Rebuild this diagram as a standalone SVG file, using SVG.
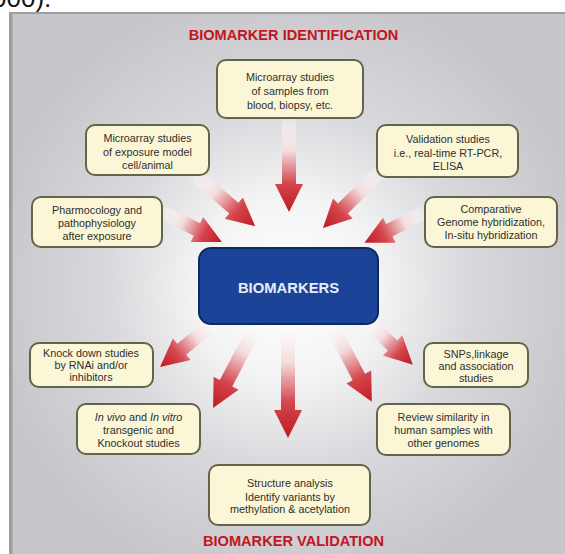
<svg xmlns="http://www.w3.org/2000/svg" width="565" height="554" viewBox="0 0 565 554">
<defs>
<radialGradient id="glow" cx="288" cy="288" r="300" gradientUnits="userSpaceOnUse">
<stop offset="0" stop-color="#ffffff"/>
<stop offset="0.3" stop-color="#f4f4f5"/>
<stop offset="0.6" stop-color="#d9d8dc"/>
<stop offset="1" stop-color="#c7c6cb"/>
</radialGradient>
<linearGradient id="arr" x1="0" y1="0" x2="1" y2="0">
<stop offset="0" stop-color="#ffffff" stop-opacity="0.2"/>
<stop offset="0.35" stop-color="#f3dcdd"/>
<stop offset="0.7" stop-color="#d4454c"/>
<stop offset="1" stop-color="#bf1a22"/>
</linearGradient>
<path id="a" d="M0,-7 L-28,-7 L-28,-14 L0,0 L-28,14 L-28,7 Z"/>
</defs>
<style>
.box{fill:#fbf7d6;stroke:#64644a;stroke-width:2}
.t{font-family:"Liberation Sans",Arial,sans-serif;font-size:10.8px;fill:#2e2e2e;text-anchor:middle}
.h{font-family:"Liberation Sans",Arial,sans-serif;font-size:14.6px;font-weight:bold;fill:#c3161c;text-anchor:middle}
.arrow{fill:url(#arr)}
</style>
<rect width="565" height="554" fill="#ffffff"/>
<text x="-8" y="7" style="font-family:'Liberation Sans',Arial,sans-serif;font-size:26px;fill:#111">000).</text>
<rect x="10" y="13" width="560" height="545" fill="url(#glow)"/>
<rect x="9" y="12" width="560" height="2" fill="#9f9ea3"/>
<rect x="9" y="12" width="3.5" height="545" fill="#9d9ca1"/>
<text class="h" x="293.5" y="40">BIOMARKER IDENTIFICATION</text>
<text class="h" x="293.5" y="546">BIOMARKER VALIDATION</text>
<g id="connectors">
<path class="arrow" d="M0,-7 L66,-7 L66,-14 L94,0 L66,14 L66,7 L0,7 Z" transform="translate(289,118) rotate(90)"/>
<path class="arrow" d="M0,-7 L51,-7 L51,-14 L79,0 L51,14 L51,7 L0,7 Z" transform="translate(195,175) rotate(40.4)"/>
<path class="arrow" d="M0,-7 L39,-7 L39,-14 L67,0 L39,14 L39,7 L0,7 Z" transform="translate(162,212) rotate(26.6)"/>
<path class="arrow" d="M0,-7 L52,-7 L52,-14 L80,0 L52,14 L52,7 L0,7 Z" transform="translate(380,172) rotate(135.5)"/>
<path class="arrow" d="M0,-7 L40,-7 L40,-14 L68,0 L40,14 L40,7 L0,7 Z" transform="translate(425,212) rotate(153)"/>
<path class="arrow" d="M0,-7 L43,-7 L43,-14 L71,0 L43,14 L43,7 L0,7 Z" transform="translate(215,322) rotate(140.7)"/>
<path class="arrow" d="M0,-7 L69,-7 L69,-14 L97,0 L69,14 L69,7 L0,7 Z" transform="translate(258,322) rotate(117.6)"/>
<path class="arrow" d="M0,-7 L88,-7 L88,-14 L116,0 L88,14 L88,7 L0,7 Z" transform="translate(288,322) rotate(90)"/>
<path class="arrow" d="M0,-7 L34,-7 L34,-14 L62,0 L34,14 L34,7 L0,7 Z" transform="translate(368,322) rotate(43.7)"/>
<path class="arrow" d="M0,-7 L62,-7 L62,-14 L90,0 L62,14 L62,7 L0,7 Z" transform="translate(330,322) rotate(62.3)"/>
</g>
<g id="biomarkers">
<rect x="199" y="248" width="179" height="76" rx="12" fill="#1b4398" stroke="#0e2862" stroke-width="2"/>
<text x="288.5" y="293" style="font-family:'Liberation Sans',Arial,sans-serif;font-size:14.8px;font-weight:bold;fill:#e8eef8;text-anchor:middle">BIOMARKERS</text>
</g>
<g id="n-blood">
<rect class="box" x="217" y="60" width="146" height="58" rx="9"/>
<text class="t" x="290" y="81">Microarray studies</text>
<text class="t" x="290" y="95">of samples from</text>
<text class="t" x="290" y="109">blood, biopsy, etc.</text>
</g>
<g id="n-exposure">
<rect class="box" x="86" y="125" width="123" height="50" rx="9"/>
<text class="t" x="147.5" y="142">Microarray studies</text>
<text class="t" x="147.5" y="156">of exposure model</text>
<text class="t" x="147.5" y="169">cell/animal</text>
</g>
<g id="n-pharm">
<rect class="box" x="32" y="197" width="130" height="50" rx="9"/>
<text class="t" x="97" y="214">Pharmocology and</text>
<text class="t" x="97" y="227">pathophysiology</text>
<text class="t" x="97" y="240">after exposure</text>
</g>
<g id="n-validation">
<rect class="box" x="377" y="125" width="141" height="52" rx="9"/>
<text class="t" x="448" y="143">Validation studies</text>
<text class="t" x="448" y="157">i.e., real-time RT-PCR,</text>
<text class="t" x="448" y="170">ELISA</text>
</g>
<g id="n-comparative">
<rect class="box" x="425" y="197" width="132" height="50" rx="9"/>
<text class="t" x="491" y="213">Comparative</text>
<text class="t" x="491" y="226">Genome hybridization,</text>
<text class="t" x="491" y="239">In-situ hybridization</text>
</g>
<g id="n-knockdown">
<rect class="box" x="30" y="343" width="123" height="44" rx="9"/>
<text class="t" x="91" y="357">Knock down studies</text>
<text class="t" x="91" y="369">by RNAi and/or</text>
<text class="t" x="91" y="381">inhibitors</text>
</g>
<g id="n-invivo">
<rect class="box" x="77" y="404" width="123" height="50" rx="9"/>
<text class="t" x="138.5" y="421"><tspan font-style="italic">In vivo</tspan> and <tspan font-style="italic">In vitro</tspan></text>
<text class="t" x="138.5" y="434">transgenic and</text>
<text class="t" x="138.5" y="447">Knockout studies</text>
</g>
<g id="n-snps">
<rect class="box" x="424" y="343" width="104" height="44" rx="9"/>
<text class="t" x="476" y="358">SNPs,linkage</text>
<text class="t" x="476" y="370">and association</text>
<text class="t" x="476" y="382">studies</text>
</g>
<g id="n-review">
<rect class="box" x="377" y="404" width="133" height="51" rx="9"/>
<text class="t" x="443.5" y="421">Review similarity  in</text>
<text class="t" x="443.5" y="434">human samples with</text>
<text class="t" x="443.5" y="447">other genomes</text>
</g>
<g id="n-structure">
<rect class="box" x="209" y="465" width="161" height="60" rx="9"/>
<text class="t" x="290" y="487">Structure analysis</text>
<text class="t" x="290" y="500.5">Identify variants by</text>
<text class="t" x="290" y="513">methylation &amp; acetylation</text>
</g>
</svg>
